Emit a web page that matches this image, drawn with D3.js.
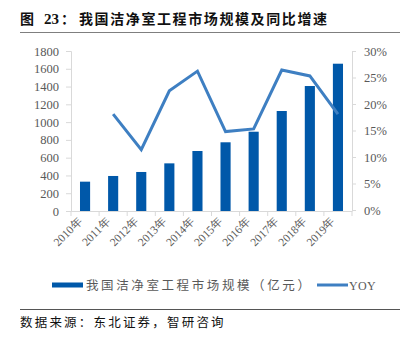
<!DOCTYPE html>
<html><head><meta charset="utf-8">
<script src="https://cdn.jsdelivr.net/npm/d3@7/dist/d3.min.js"></script>
<style>body{margin:0;background:#fff}svg{display:block}</style>
</head><body>
<script>
const categories = ["2010年","2011年","2012年","2013年","2014年","2015年","2016年","2017年","2018年","2019年"];
const marketSize = [330, 394, 439, 536, 675, 773, 892, 1125, 1406, 1657];
const yoy = [null, 18.1, 11.4, 22.5, 26.2, 14.8, 15.3, 26.4, 25.3, 18.1];
const leftTicks = [0,200,400,600,800,1000,1200,1400,1600,1800];
const rightTicks = [0,5,10,15,20,25,30];
const titleParts = ["图", "23：", "我国洁净室工程市场规模及同比增速"];
const legendBar = "我国洁净室工程市场规模（亿元）";
const legendLine = "YOY";
const source = "数据来源：东北证券，智研咨询";

const W = 409, H = 337;
const svg = d3.select("body").append("svg").attr("width", W).attr("height", H);
const cjk = "'Noto Sans CJK SC', sans-serif";
const serif = "'Liberation Serif', 'DejaVu Serif', serif";
const grey = "#595959";

const tt = svg.append("g").attr("font-family", cjk).attr("font-weight", "bold").attr("font-size", 14).attr("fill", "#111");
tt.append("text").attr("x", 20).attr("y", 24).text(titleParts[0]);
tt.append("text").attr("x", 44).attr("y", 24).attr("font-family", serif).attr("font-size", 15).text(titleParts[1].slice(0,2));
tt.append("text").attr("x", 61).attr("y", 24).text(titleParts[1].slice(2));
tt.append("text").attr("x", 79).attr("y", 24).attr("letter-spacing", 1.6).text(titleParts[2]);
svg.append("line").attr("x1", 20).attr("x2", 400).attr("y1", 32.5).attr("y2", 32.5).attr("stroke", "#7f7f7f").attr("stroke-width", 1);

const x0 = 71, x1 = 352, yTop = 51, yBot = 211;
const x = d3.scaleBand().domain(categories).range([x0, x1]).paddingInner(0.64).paddingOuter(0.32);
const xb = d3.scaleBand().domain(categories).range([x0, x1]);
const yL = d3.scaleLinear().domain([0, 1800]).range([yBot, yTop]);
const yR = d3.scaleLinear().domain([0, 30]).range([yBot - 1, yTop]);

// bars
svg.append("g").selectAll("rect").data(marketSize).join("rect")
  .attr("x", (d,i) => x(categories[i])).attr("width", x.bandwidth())
  .attr("y", d => yL(d)).attr("height", d => yBot - yL(d)).attr("fill", "#0058A9");

// left axis
const gL = svg.append("g").attr("transform", `translate(${x0},0)`)
  .call(d3.axisLeft(yL).tickValues(leftTicks).tickSize(5).tickPadding(7).tickFormat(d3.format("d")));
// right axis
const gR = svg.append("g").attr("transform", `translate(${x1},0)`)
  .call(d3.axisRight(yR).tickValues(rightTicks).tickSize(4).tickPadding(8).tickFormat(d => d + "%"));
// x axis
const gX = svg.append("g").attr("transform", `translate(0,${yBot})`)
  .call(d3.axisBottom(xb).tickSize(0).tickFormat(""));
svg.append("g").selectAll("line").data(d3.range(categories.length + 1)).join("line")
  .attr("x1", i => x0 + i * xb.step()).attr("x2", i => x0 + i * xb.step())
  .attr("y1", yBot).attr("y2", yBot + 5).attr("stroke", "#d9d9d9");

[gL, gR, gX].forEach(g => {
  g.select(".domain").attr("stroke", "#d9d9d9");
  g.selectAll(".tick line").attr("stroke", "#d9d9d9");
  g.selectAll(".tick text").attr("font-family", serif).attr("font-size", 12.5).attr("fill", grey);
});

// x labels rotated
svg.append("g").selectAll("text").data(categories).join("text")
  .attr("transform", d => `translate(${xb(d) + xb.bandwidth()/2 - 2},${yBot + 11}) rotate(-45)`)
  .attr("text-anchor", "end").attr("font-family", serif).attr("font-size", 11.5).attr("fill", grey)
  .text(d => d);

// line
const pts = yoy.map((v,i) => ({v, c: categories[i]})).filter(p => p.v !== null);
svg.append("path").datum(pts)
  .attr("d", d3.line().x(p => xb(p.c) + xb.bandwidth()/2).y(p => yR(p.v)))
  .attr("fill", "none").attr("stroke", "#3E7FC2").attr("stroke-width", 3).attr("stroke-linejoin", "miter");

// legend
svg.append("rect").attr("x", 52).attr("y", 282.5).attr("width", 31).attr("height", 5).attr("fill", "#0058A9");
svg.append("text").attr("x", 86).attr("y", 289.5).attr("font-family", cjk).attr("font-size", 12.5)
  .attr("letter-spacing", 2.6).attr("fill", grey).text(legendBar);
svg.append("line").attr("x1", 317).attr("x2", 348).attr("y1", 285).attr("y2", 285).attr("stroke", "#3E7FC2").attr("stroke-width", 3);
svg.append("text").attr("x", 349).attr("y", 289.5).attr("font-family", serif).attr("font-size", 12)
  .attr("letter-spacing", 0.3).attr("fill", grey).text(legendLine);

svg.append("line").attr("x1", 20).attr("x2", 400).attr("y1", 309.5).attr("y2", 309.5).attr("stroke", "#555").attr("stroke-width", 1);
svg.append("text").attr("x", 20).attr("y", 327).attr("font-family", cjk).attr("font-size", 12.5)
  .attr("letter-spacing", 2.2).attr("fill", "#111").text(source);
</script>
</body></html>
